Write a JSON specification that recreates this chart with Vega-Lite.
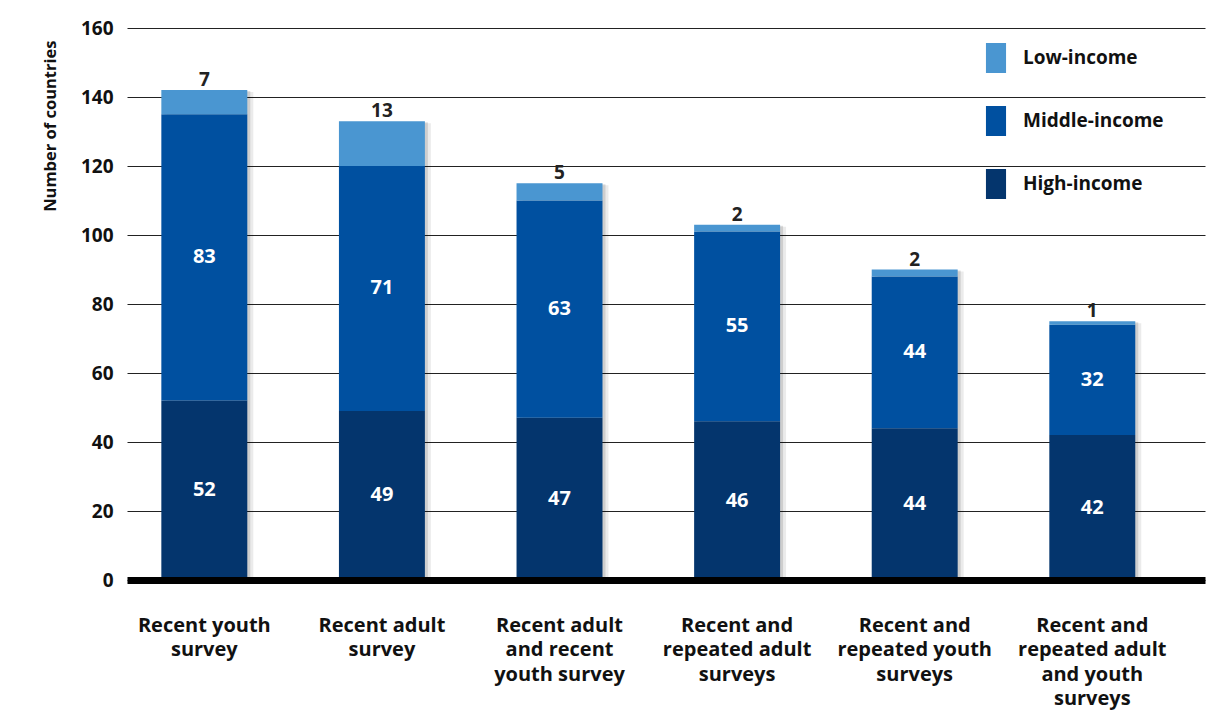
{
  "$schema": "https://vega.github.io/schema/vega-lite/v6.json",
  "width": 1078,
  "height": 552,
  "autosize": "none",
  "padding": {"left": 127, "top": 28, "right": 7, "bottom": 131},
  "config": {
    "font": "Open Sans",
    "view": {"stroke": null},
    "axis": {"labelFont": "Open Sans", "titleFont": "Open Sans"},
    "legend": {"labelFont": "Open Sans"}
  },
  "data": {
    "values": [
      {"survey": "Recent youth survey", "income": "High-income", "order": 1, "value": 52},
      {"survey": "Recent youth survey", "income": "Middle-income", "order": 2, "value": 83},
      {"survey": "Recent youth survey", "income": "Low-income", "order": 3, "value": 7},
      {"survey": "Recent adult survey", "income": "High-income", "order": 1, "value": 49},
      {"survey": "Recent adult survey", "income": "Middle-income", "order": 2, "value": 71},
      {"survey": "Recent adult survey", "income": "Low-income", "order": 3, "value": 13},
      {"survey": "Recent adult and recent youth survey", "income": "High-income", "order": 1, "value": 47},
      {"survey": "Recent adult and recent youth survey", "income": "Middle-income", "order": 2, "value": 63},
      {"survey": "Recent adult and recent youth survey", "income": "Low-income", "order": 3, "value": 5},
      {"survey": "Recent and repeated adult surveys", "income": "High-income", "order": 1, "value": 46},
      {"survey": "Recent and repeated adult surveys", "income": "Middle-income", "order": 2, "value": 55},
      {"survey": "Recent and repeated adult surveys", "income": "Low-income", "order": 3, "value": 2},
      {"survey": "Recent and repeated youth surveys", "income": "High-income", "order": 1, "value": 44},
      {"survey": "Recent and repeated youth surveys", "income": "Middle-income", "order": 2, "value": 44},
      {"survey": "Recent and repeated youth surveys", "income": "Low-income", "order": 3, "value": 2},
      {"survey": "Recent and repeated adult and youth surveys", "income": "High-income", "order": 1, "value": 42},
      {"survey": "Recent and repeated adult and youth surveys", "income": "Middle-income", "order": 2, "value": 32},
      {"survey": "Recent and repeated adult and youth surveys", "income": "Low-income", "order": 3, "value": 1}
    ]
  },
  "transform": [
    {"stack": "value", "groupby": ["survey"], "sort": [{"field": "order"}], "as": ["y0", "y1"]},
    {"calculate": "(datum.y0 + datum.y1) / 2", "as": "ymid"}
  ],
  "encoding": {
    "x": {
      "field": "survey",
      "type": "nominal",
      "sort": null,
      "scale": {"paddingInner": 0.516, "paddingOuter": 0.293, "align": 0.33},
      "axis": {
        "title": null,
        "labelAngle": 0,
        "labelFontSize": 20,
        "labelFontWeight": "bold",
        "labelColor": "#111",
        "labelLineHeight": 24.5,
        "labelPadding": 35,
        "labelBaseline": "top",
        "ticks": false,
        "domain": true,
        "domainColor": "#000",
        "domainWidth": 7,
        "zindex": 1,
        "labelExpr": "{'Recent youth survey': ['Recent youth', 'survey'], 'Recent adult survey': ['Recent adult', 'survey'], 'Recent adult and recent youth survey': ['Recent adult', 'and recent', 'youth survey'], 'Recent and repeated adult surveys': ['Recent and', 'repeated adult', 'surveys'], 'Recent and repeated youth surveys': ['Recent and', 'repeated youth', 'surveys'], 'Recent and repeated adult and youth surveys': ['Recent and', 'repeated adult', 'and youth', 'surveys']}[datum.value]"
      }
    }
  },
  "layer": [
    {
      "mark": {"type": "bar", "xOffset": 6, "yOffset": 2, "color": "#000", "opacity": 0.08},
      "encoding": {
        "y": {"aggregate": "sum", "field": "value", "type": "quantitative"}
      }
    },
    {
      "mark": {"type": "bar", "xOffset": 3, "yOffset": 1, "color": "#000", "opacity": 0.12},
      "encoding": {
        "y": {"aggregate": "sum", "field": "value", "type": "quantitative"}
      }
    },
    {
      "mark": {"type": "bar"},
      "encoding": {
        "y": {
          "field": "y0",
          "type": "quantitative",
          "scale": {"domain": [0, 160], "nice": false},
          "axis": {
            "title": "Number of countries",
            "titleFontSize": 16.5,
            "titleFontWeight": "bold",
            "titleColor": "#111",
            "titleAnchor": "end",
            "titleY": 12,
            "titlePadding": 22,
            "values": [0, 20, 40, 60, 80, 100, 120, 140, 160],
            "labelFontSize": 19,
            "labelFontWeight": "bold",
            "labelColor": "#111",
            "labelPadding": 14,
            "ticks": false,
            "domain": false,
            "grid": true,
            "gridColor": "#222",
            "gridWidth": 1
          }
        },
        "y2": {"field": "y1"},
        "color": {
          "field": "income",
          "type": "nominal",
          "scale": {
            "domain": ["Low-income", "Middle-income", "High-income"],
            "range": ["#4a96d1", "#0050a0", "#04356d"]
          },
          "legend": {
            "title": null,
            "orient": "none",
            "legendX": 854,
            "legendY": 15,
            "padding": 0,
            "symbolType": "M-0.67,-1H0.67V1H-0.67Z",
            "symbolSize": 900,
            "symbolStrokeWidth": 0,
            "symbolOpacity": 1,
            "labelFontSize": 19,
            "labelFontWeight": "bold",
            "labelColor": "#111",
            "labelOffset": 12,
            "rowPadding": 33
          }
        }
      }
    },
    {
      "transform": [{"filter": "datum.income !== 'Low-income'"}],
      "mark": {"type": "text", "fontSize": 20, "fontWeight": "bold", "color": "#ffffff", "baseline": "middle"},
      "encoding": {
        "y": {"field": "ymid", "type": "quantitative"},
        "text": {"field": "value", "type": "quantitative"}
      }
    },
    {
      "transform": [{"filter": "datum.income === 'Low-income'"}],
      "mark": {"type": "text", "fontSize": 19, "fontWeight": "bold", "color": "#222", "baseline": "alphabetic", "dy": -4},
      "encoding": {
        "y": {"field": "y1", "type": "quantitative"},
        "text": {"field": "value", "type": "quantitative"}
      }
    }
  ]
}
